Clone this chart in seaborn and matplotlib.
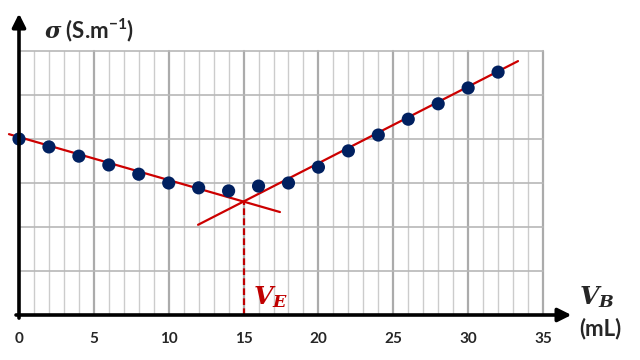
import numpy as np
import pandas as pd
import matplotlib
matplotlib.use("Agg")
import matplotlib.pyplot as plt
import seaborn as sns

# measured points (conductivity, arbitrary grid units)
vb = [0, 2, 4, 6, 8, 10, 12, 14, 16, 18, 20, 22, 24, 26, 28, 30, 32]
sigma = [4.0, 3.82, 3.61, 3.41, 3.20, 3.0, 2.89, 2.82, 2.93, 3.0,
         3.36, 3.73, 4.09, 4.45, 4.80, 5.16, 5.52]

# the two straight lines drawn through the points
line1_x = [-0.67, 17.43]
line1_y = [4.11, 2.34]
line2_x = [11.96, 33.33]
line2_y = [2.05, 5.77]

# equivalence point
ve_x = 15
ve_y = 2.58

x_ticks = [0, 5, 10, 15, 20, 25, 30, 35]

sns.set_style("white")
plt.rcParams["font.family"] = ["Lato", "DejaVu Sans"]
plt.rcParams["mathtext.fontset"] = "custom"
plt.rcParams["mathtext.it"] = "DejaVu Serif:italic:bold"
plt.rcParams["mathtext.rm"] = "Lato:bold"

fig = plt.figure(figsize=(6.4, 3.6), dpi=100)
ax = fig.add_axes([19 / 640, 45 / 360, 524 / 640, 264 / 360])

ax.set_xlim(0, 35)
ax.set_ylim(0, 6)

# grid
for x in range(0, 36):
    if x % 5 == 0:
        ax.axvline(x, color="#ababab", lw=1.6, zorder=0)
    else:
        ax.axvline(x, color="#cccccc", lw=1.0, zorder=0)
for y in range(0, 7):
    ax.axhline(y, color="#b8b8b8", lw=1.2, zorder=0)

for s in ax.spines.values():
    s.set_visible(False)

ax.set_xticks(x_ticks)
ax.set_xticklabels([str(t) for t in x_ticks], fontweight="bold", fontsize=11)
ax.set_yticks([])
ax.tick_params(axis="x", length=0, pad=12)

df = pd.DataFrame({"vb": vb, "sigma": sigma})

red = "#cc0000"
sns.lineplot(x=line1_x, y=line1_y, color=red, lw=1.6, ax=ax, zorder=3)
sns.lineplot(x=line2_x, y=line2_y, color=red, lw=1.6, ax=ax, zorder=3)
for l in ax.lines:
    l.set_clip_on(False)

sns.scatterplot(data=df, x="vb", y="sigma", color="#002060", s=90,
                edgecolor="none", ax=ax, zorder=4, clip_on=False)

ax.plot([ve_x, ve_x], [0, ve_y], color="#c00000", lw=1.6,
        ls=(0, (3, 1.5)), zorder=2)

# axes arrows
ax.annotate("", xy=(36.9, 0), xytext=(-0.2, 0), xycoords="data",
            arrowprops=dict(arrowstyle="-|>", lw=2.6, color="black",
                            mutation_scale=20, shrinkA=0, shrinkB=0),
            annotation_clip=False, zorder=5)
ax.annotate("", xy=(0, 6.85), xytext=(0, -0.07), xycoords="data",
            arrowprops=dict(arrowstyle="-|>", lw=2.6, color="black",
                            mutation_scale=20, shrinkA=0, shrinkB=0),
            annotation_clip=False, zorder=5)

ax.set_xlabel("")
ax.set_ylabel("")

ax.text(1.7, 6.48, r"$\sigma$ (S.m$^{\mathregular{-1}}$)", fontsize=16,
        fontweight="bold", va="center", ha="left", clip_on=False)
ax.text(15.6, 0.4, r"$V_E$", fontsize=18, color="#c00000",
        va="center", ha="left")
ax.text(38.6, 0.4, r"$V_B$", fontsize=18, va="center", ha="center",
        clip_on=False)
ax.text(38.8, -0.3, "(mL)", fontsize=16, fontweight="bold",
        va="center", ha="center", clip_on=False)

fig.savefig("out.png", dpi=100)
